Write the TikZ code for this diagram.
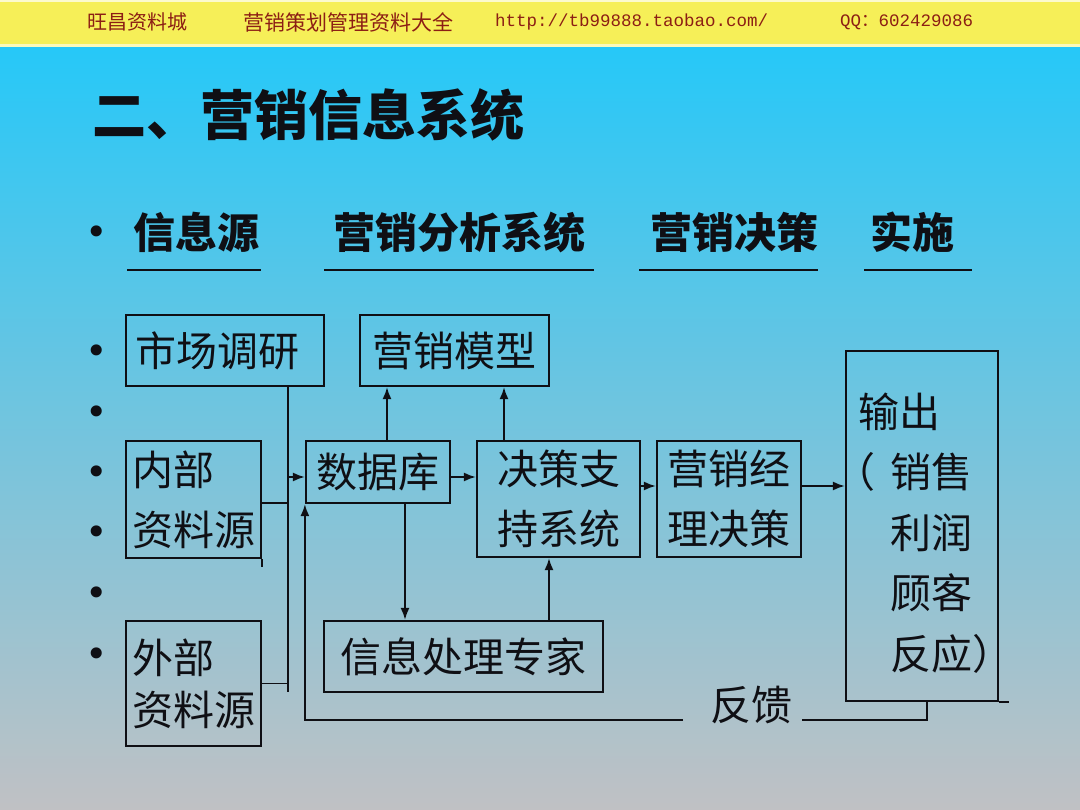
\documentclass[tikz,border=0pt]{standalone}
\usepackage{fontspec}
\usetikzlibrary{arrows.meta}
\newfontfamily\cjk{Noto Sans CJK SC}
\newfontfamily\monof{Liberation Mono}
\newfontfamily\dejav{DejaVu Sans}
\definecolor{hdrY}{RGB}{246,239,88}
\definecolor{hdrT}{RGB}{140,30,20}
\definecolor{bgTop}{RGB}{38,200,248}
\definecolor{bgMid}{RGB}{125,195,230}
\definecolor{bgBot}{RGB}{192,193,196}
\definecolor{ink}{RGB}{15,15,20}
\begin{document}
\begin{tikzpicture}[x=1pt,y=-1pt,
  box/.style={draw=ink, line width=2.2pt, inner sep=0pt, text=ink,
              font=\cjk\fontsize{41}{60}\selectfont},
  conn/.style={draw=ink, line width=1.8pt},
  arr/.style={conn, -{Latex[length=12pt,width=9pt]}},
  hdr/.style={text=hdrT, inner sep=0pt, anchor=west},
  bul/.style={font=\dejav\fontsize{38}{38}\selectfont, text=ink, inner sep=0pt},
  head/.style={font=\cjk\bfseries\fontsize{42}{42}\selectfont, text=ink, inner sep=0pt, anchor=west},
  uline/.style={draw=ink, line width=2.2pt}
]
\useasboundingbox (0,0) rectangle (1080,810);
% background
\shade[top color=bgTop, middle color=bgMid, bottom color=bgBot] (0,46) rectangle (1080,810);
\fill[hdrY] (0,0) rectangle (1080,45);
\fill[white!70!hdrY] (0,0) rectangle (1080,2);
\fill[white!60!hdrY] (0,44) rectangle (1080,47);
% header
\node[hdr, font=\cjk\fontsize{20}{20}\selectfont] (h1) at (87,22) {旺昌资料城};
\node[hdr, font=\cjk\fontsize{21}{21}\selectfont] (h2) at (243,22) {营销策划管理资料大全};
\node[hdr, font=\monof\fontsize{17.5}{17.5}\selectfont] (h3) at (495,22) {http://tb99888.taobao.com/};
\node[hdr, font=\monof\fontsize{17.5}{17.5}\selectfont] (h4) at (840,22) {QQ{\cjk ：}602429086};
% title
\node[font=\cjk\bfseries\fontsize{54}{54}\selectfont, text=ink, anchor=west, inner sep=0pt] (title) at (92,115) {二、营销信息系统};
% headings
\node[bul] (b0) at (97,236) {•};
\node[head] (s1) at (133,232) {信息源};
\node[head] (s2) at (333,232) {营销分析系统};
\node[head] (s3) at (650,232) {营销决策};
\node[head] (s4) at (870,232) {实施};
\draw[uline] (127,270) -- (261,270);
\draw[uline] (324,270) -- (594,270);
\draw[uline] (639,270) -- (818,270);
\draw[uline] (864,270) -- (972,270);
% bullets
\foreach \yy [count=\i] in {355,416,476,536,597,658}
  \node[bul] (bl\i) at (97,\yy) {•};
% boxes
\node[box, minimum width=198, minimum height=71, text width=180, align=left, inner xsep=9pt] (mr) at (225,350.5) {市场调研};
\node[box, minimum width=189, minimum height=71] (mm) at (454.5,350.5) {营销模型};
\node[box, minimum width=135, minimum height=117, text width=123, align=left, inner xsep=6pt] (nb) at (193.5,499.5) {内部\\资料源};
\node[box, minimum width=135, minimum height=125, text width=123, align=left, inner xsep=6pt,
      font=\cjk\fontsize{41}{52}\selectfont] (wb) at (193.5,683.5) {外部\\资料源};
\node[box, minimum width=144, minimum height=62] (db) at (378,472) {数据库};
\node[box, minimum width=163, minimum height=116, align=center] (ds) at (558.5,499) {决策支\\持系统};
\node[box, minimum width=144, minimum height=116, align=center] (me) at (729,499) {营销经\\理决策};
\node[box, minimum width=279, minimum height=71] (ip) at (463.5,656.5) {信息处理专家};
\node[box, minimum width=152, minimum height=350] (out) at (922,526) {};
\node[anchor=west, inner sep=0pt, align=left, text=ink, font=\cjk\fontsize{41}{60.5}\selectfont] (outt) at (858,533)
  {输出\\\makebox[32pt][l]{\hspace*{-24pt}（}销售\\\hspace*{32pt}利润\\\hspace*{32pt}顾客\\\hspace*{32pt}反应）};
% connectors
\coordinate (busT) at (288,386);
\coordinate (busB) at (288,692);
\draw[conn] (busT) -- (busB);
\draw[conn] ([yshift=-3.5pt]nb.east) -- ++(27,0);
\draw[conn] (nb.south east) -- ++(0,8);
\draw[conn] (wb.east) -- ++(27,0);
\coordinate (dbin) at ([yshift=-5pt]db.west);
\draw[arr] (dbin -| busT) -- (dbin);
\draw[arr] ([xshift=9pt]db.north) -- ([xshift=-67.5pt]mm.south);
\draw[arr] ([xshift=-54.5pt]ds.north) -- ([xshift=49.5pt]mm.south);
\draw[arr] ([yshift=-5pt]db.east) -- ([yshift=22pt]ds.west);
\draw[arr] ([yshift=13pt]ds.east) -- ([yshift=13pt]me.west);
\draw[arr] ([yshift=13pt]me.east) -- ([yshift=40pt]out.west);
\draw[arr] ([xshift=27pt]db.south) -- ([xshift=-58.5pt]ip.north);
\draw[arr] ([xshift=85.5pt]ip.north) -- ([xshift=-9.5pt]ds.south);
% feedback
\node[inner sep=0pt, text=ink, font=\cjk\fontsize{41}{41}\selectfont] (fb) at (751,705) {反馈};
\coordinate (fbL) at (683,720);
\coordinate (fbR) at (802,720);
\draw[arr] (fbL) -| (db.south west);
\draw[conn] ([xshift=5pt]out.south) |- (fbR);
\draw[conn] (out.south east) -- ++(10,0);
\end{tikzpicture}
\end{document}
